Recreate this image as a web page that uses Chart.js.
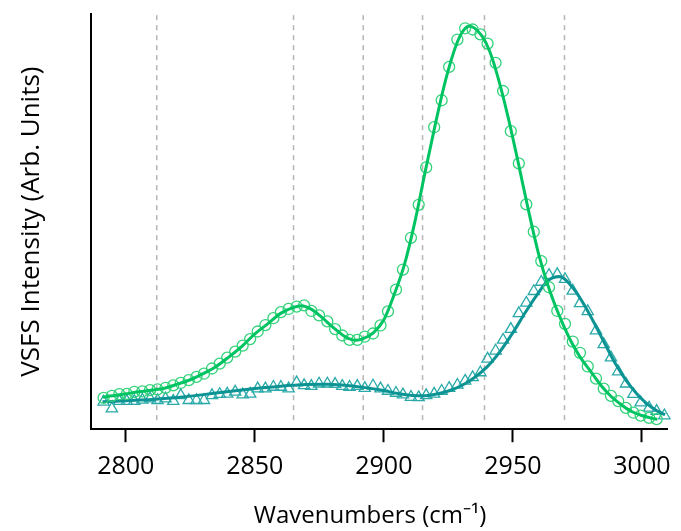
<!DOCTYPE html>
<html lang="en">
<head>
  <meta charset="UTF-8" />
  <title>VSFS spectra</title>
  <script src="https://cdn.jsdelivr.net/npm/chart.js"></script>
  <style>
    html, body { margin: 0; padding: 0; background: #fff; }
    canvas { display: block; }
  </style>
</head>
<body>
  <canvas id="chart" width="681" height="531"></canvas>

  <script>
    // measured points (circles, green)
    const greenX = [2791.4, 2794.6, 2797.5, 2800.4, 2803.3, 2806.4, 2809.4, 2812.3, 2815.4, 2818.4,
      2821.3, 2824.4, 2827.4, 2830.3, 2833.4, 2836.4, 2839.3, 2842.4, 2845.3, 2848.2,
      2851.1, 2854.1, 2857.2, 2860.1, 2863.1, 2866.2, 2869.1, 2871.9, 2874.9, 2878.1,
      2881.1, 2883.9, 2886.7, 2889.7, 2892.6, 2895.8, 2898.7, 2901.6, 2904.7, 2907.4,
      2910.5, 2913.5, 2916.4, 2919.5, 2922.4, 2925.3, 2928.5, 2931.5, 2934.4, 2937.4,
      2940.2, 2943.3, 2946.2, 2949.2, 2952.3, 2955.2, 2958.1, 2961.0, 2964.0, 2967.2,
      2970.2, 2973.2, 2976.0, 2979.0, 2982.2, 2985.2, 2988.0, 2990.8, 2993.8, 2996.7,
      2999.5, 3002.8, 3005.7];
    const greenY = [0.078, 0.083, 0.087, 0.088, 0.093, 0.094, 0.097, 0.099, 0.103, 0.109,
      0.115, 0.122, 0.130, 0.138, 0.151, 0.163, 0.178, 0.193, 0.208, 0.224,
      0.243, 0.259, 0.276, 0.291, 0.299, 0.305, 0.308, 0.294, 0.283, 0.268,
      0.249, 0.233, 0.222, 0.222, 0.230, 0.238, 0.258, 0.293, 0.347, 0.397,
      0.476, 0.558, 0.651, 0.751, 0.818, 0.901, 0.969, 0.997, 0.994, 0.982,
      0.959, 0.911, 0.841, 0.741, 0.661, 0.559, 0.491, 0.418, 0.353, 0.294,
      0.262, 0.218, 0.190, 0.156, 0.126, 0.101, 0.083, 0.070, 0.053, 0.041,
      0.034, 0.028, 0.025];

    // measured points (triangles, teal)
    const tealX = [2791.4, 2794.6, 2797.5, 2800.4, 2803.3, 2806.4, 2809.4, 2812.3, 2815.4, 2818.4,
      2821.3, 2824.4, 2827.4, 2830.3, 2833.4, 2836.4, 2839.3, 2842.4, 2845.3, 2848.2,
      2851.1, 2854.1, 2857.2, 2860.1, 2863.1, 2866.2, 2869.1, 2871.9, 2874.9, 2878.1,
      2881.1, 2883.9, 2886.7, 2889.7, 2892.6, 2895.8, 2898.7, 2901.6, 2904.7, 2907.4,
      2910.5, 2913.5, 2916.4, 2919.5, 2922.4, 2925.3, 2928.5, 2931.5, 2934.4, 2937.4,
      2940.2, 2943.3, 2946.2, 2949.2, 2952.3, 2955.2, 2958.1, 2961.0, 2964.0, 2967.2,
      2970.2, 2973.2, 2976.0, 2979.0, 2982.2, 2985.2, 2988.0, 2990.8, 2993.8, 2996.7,
      2999.5, 3002.8, 3005.7, 3008.7];
    const tealY = [0.068, 0.051, 0.070, 0.070, 0.070, 0.073, 0.076, 0.072, 0.076, 0.070,
      0.084, 0.072, 0.072, 0.072, 0.084, 0.087, 0.088, 0.093, 0.086, 0.088,
      0.101, 0.101, 0.105, 0.105, 0.101, 0.116, 0.109, 0.107, 0.113, 0.113,
      0.112, 0.107, 0.105, 0.107, 0.102, 0.108, 0.101, 0.095, 0.090, 0.086,
      0.080, 0.079, 0.084, 0.088, 0.095, 0.102, 0.110, 0.120, 0.129, 0.141,
      0.175, 0.195, 0.222, 0.249, 0.288, 0.314, 0.343, 0.366, 0.383, 0.385,
      0.373, 0.344, 0.313, 0.293, 0.245, 0.211, 0.178, 0.143, 0.113, 0.087,
      0.066, 0.053, 0.045, 0.034];

    // fitted curves
    const greenFitX = [2791, 2795, 2800, 2805, 2810, 2815, 2820, 2825, 2830, 2835, 2840, 2845, 2850,
      2855, 2860, 2865, 2868, 2872, 2876, 2880, 2885, 2889, 2892, 2896, 2900, 2904, 2908,
      2912, 2916, 2920, 2924, 2928, 2931, 2933, 2935, 2938, 2941, 2944, 2948, 2952, 2956,
      2960, 2964, 2968, 2972, 2976, 2980, 2984, 2988, 2992, 2996, 3000, 3004, 3006];
    const greenFitY = [0.080, 0.083, 0.088, 0.093, 0.097, 0.102, 0.112, 0.123, 0.138, 0.156, 0.180, 0.206, 0.237,
      0.262, 0.288, 0.303, 0.307, 0.298, 0.278, 0.255, 0.230, 0.221, 0.225, 0.240, 0.272, 0.335, 0.410,
      0.515, 0.640, 0.760, 0.870, 0.955, 0.993, 1.002, 0.998, 0.978, 0.940, 0.880, 0.780, 0.665, 0.545,
      0.435, 0.350, 0.282, 0.225, 0.180, 0.145, 0.110, 0.082, 0.061, 0.044, 0.034, 0.027, 0.025];

    const tealFitX = [2791, 2800, 2810, 2820, 2830, 2840, 2850, 2860, 2870, 2878, 2885, 2892, 2900,
      2906, 2911, 2915, 2920, 2925, 2930, 2935, 2940, 2945, 2950, 2955, 2960, 2963, 2966, 2968,
      2970, 2974, 2978, 2982, 2986, 2990, 2994, 2998, 3002, 3006, 3009];
    const tealFitY = [0.068, 0.071, 0.074, 0.079, 0.086, 0.094, 0.101, 0.107, 0.111, 0.112, 0.109, 0.104, 0.096,
      0.088, 0.084, 0.083, 0.087, 0.095, 0.108, 0.128, 0.155, 0.193, 0.240, 0.292, 0.340, 0.366, 0.378, 0.380,
      0.374, 0.345, 0.305, 0.258, 0.208, 0.160, 0.120, 0.088, 0.063, 0.045, 0.036];

    // peak positions marked with dashed lines
    const peakLines = [2812, 2865, 2892, 2915, 2939, 2970];
    const peakLineRange = [0.0225, 1.0325];

    const toPoints = (xs, ys) => xs.map((x, i) => ({ x: x, y: ys[i] }));

    const datasets = [];

    peakLines.forEach(x => {
      datasets.push({
        data: [{ x: x, y: peakLineRange[0] }, { x: x, y: peakLineRange[1] }],
        showLine: true,
        borderColor: '#b5b5b5',
        borderWidth: 1.5,
        borderDash: [5, 5],
        pointRadius: 0,
        order: 10
      });
    });

    datasets.push({
      data: toPoints(tealX, tealY),
      showLine: false,
      pointStyle: 'triangle',
      pointRadius: 6.5,
      pointBorderWidth: 1.3,
      pointBorderColor: '#2aa9a9',
      pointBackgroundColor: 'rgba(0,0,0,0)',
      clip: false,
      order: 5
    });
    datasets.push({
      data: toPoints(tealFitX, tealFitY),
      showLine: true,
      borderColor: '#0c9393',
      borderWidth: 3,
      cubicInterpolationMode: 'monotone',
      pointRadius: 0,
      order: 4
    });
    datasets.push({
      data: toPoints(greenX, greenY),
      showLine: false,
      pointStyle: 'circle',
      pointRadius: 5.5,
      pointBorderWidth: 1.3,
      pointBorderColor: '#33d27a',
      pointBackgroundColor: 'rgba(0,0,0,0)',
      clip: false,
      order: 3
    });
    datasets.push({
      data: toPoints(greenFitX, greenFitY),
      showLine: true,
      borderColor: '#00c462',
      borderWidth: 3,
      cubicInterpolationMode: 'monotone',
      pointRadius: 0,
      order: 2
    });

    new Chart(document.getElementById('chart'), {
      type: 'scatter',
      data: { datasets: datasets },
      options: {
        responsive: false,
        animation: false,
        devicePixelRatio: 1,
        layout: { padding: { top: 14, right: 11, left: 0, bottom: 0 } },
        plugins: {
          legend: { display: false },
          tooltip: { enabled: false }
        },
        scales: {
          x: {
            type: 'linear',
            min: 2786.6,
            max: 3010,
            grid: {
              display: true,
              drawOnChartArea: false,
              drawTicks: true,
              tickLength: 13,
              tickWidth: 2,
              tickColor: '#000'
            },
            border: { display: true, color: '#000', width: 2 },
            ticks: {
              stepSize: 50,
              includeBounds: false,
              color: '#000',
              font: { family: 'Open Sans', size: 25 },
              padding: 10,
              maxRotation: 0,
              callback: v => String(v)
            },
            title: {
              display: true,
              // trailing spaces nudge the centred title a little to the left, as in the original
              text: 'Wavenumbers (cm⁻¹)   ',
              color: '#000',
              font: { family: 'Open Sans', size: 24 },
              padding: { top: 10, bottom: 0 }
            }
          },
          y: {
            type: 'linear',
            min: 0,
            max: 1.0325,
            grid: { display: false, drawTicks: false },
            border: { display: true, color: '#000', width: 2 },
            ticks: { display: false },
            title: {
              display: true,
              text: 'VSFS Intensity (Arb. Units)',
              color: '#000',
              font: { family: 'Open Sans', size: 26 },
              padding: { top: 16, bottom: 44 }
            }
          }
        }
      }
    });
  </script>
</body>
</html>
